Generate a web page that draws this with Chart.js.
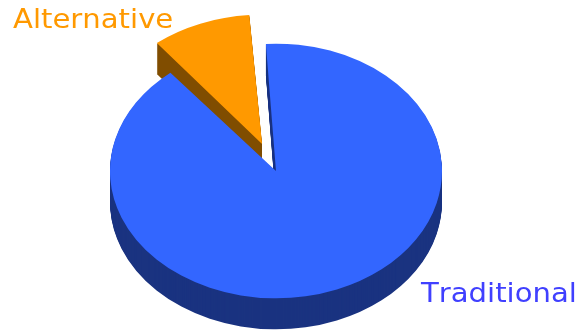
<!DOCTYPE html>
<html>
<head>
<meta charset="utf-8">
<title>Traditional vs Alternative</title>
<script src="https://cdn.jsdelivr.net/npm/chart.js@4"></script>
<style>
  html, body { margin: 0; padding: 0; background: #ffffff; }
  canvas { display: block; }
</style>
</head>
<body>
<canvas id="pieChart" width="580" height="331"></canvas>
<script>
const categories = ['Traditional', 'Alternative'];
const shares = [90, 10];
const faceColors = ['#3366FF', '#FF9900'];
const wallColors = ['#1A3380', '#804D00'];
const labelColors = ['#4040FF', '#FF9900'];
const labelSpots = [[421, 302], [13, 28]];

const RADIUS = 166;
const TILT = 0.767;      // vertical squash of the disc
const DEPTH = 31;        // wall height in px
const EXPLODE = 38;      // how far the small slice is pulled out
const EXPLODE_GROW = 2.5; // pulled-out slice sits a touch wider

const tiltPie = {
  id: 'tiltPie',
  afterDatasetsUpdate(chart) {
    // Arc.draw grows the radius of an offset slice, take that back out
    chart.getDatasetMeta(0).data.forEach((el) => {
      const off = (el.options.offset || 0) / 4;
      if (!off) return;
      const sweep = el.endAngle - el.startAngle;
      el.outerRadius = RADIUS + EXPLODE_GROW - (1 - Math.sin(Math.min(Math.PI, sweep))) * off;
    });
  },
  beforeDatasetsDraw(chart) {
    const ctx = chart.ctx;
    const arcs = chart.getDatasetMeta(0).data;
    const cy = arcs[0].y;

    ctx.save();
    ctx.translate(0, cy);
    ctx.scale(1, TILT);
    ctx.translate(0, -cy);

    // walls first, small slice behind the big one
    [1, 0].forEach((i) => {
      const el = arcs[i];
      const faceOptions = el.options;
      el.options = Object.assign({}, faceOptions, { backgroundColor: wallColors[i] });
      for (let d = DEPTH; d > 0; d--) {
        ctx.save();
        ctx.translate(0, d / TILT);
        el.draw(ctx);
        ctx.restore();
      }
      el.options = faceOptions;
    });
  },
  afterDatasetsDraw(chart) {
    const ctx = chart.ctx;
    ctx.restore();

    ctx.font = '26px "DejaVu Sans"';
    ctx.fontKerning = 'none';
    ctx.textBaseline = 'alphabetic';
    categories.forEach((name, i) => {
      ctx.save();
      ctx.translate(labelSpots[i][0], labelSpots[i][1]);
      ctx.scale(1.12, 1);
      ctx.fillStyle = labelColors[i];
      ctx.fillText(name, 0, 0);
      ctx.restore();
    });
  }
};

new Chart(document.getElementById('pieChart'), {
  type: 'pie',
  data: {
    labels: categories,
    datasets: [{
      data: shares,
      backgroundColor: faceColors,
      borderWidth: 0,
      offset: [0, EXPLODE * 4],
      clip: false
    }]
  },
  options: {
    responsive: false,
    animation: false,
    events: [],
    radius: RADIUS,
    rotation: -3.5,
    layout: { padding: { right: 28, top: 11 } },
    plugins: { legend: { display: false }, tooltip: { enabled: false } }
  },
  plugins: [tiltPie]
});
</script>
</body>
</html>
